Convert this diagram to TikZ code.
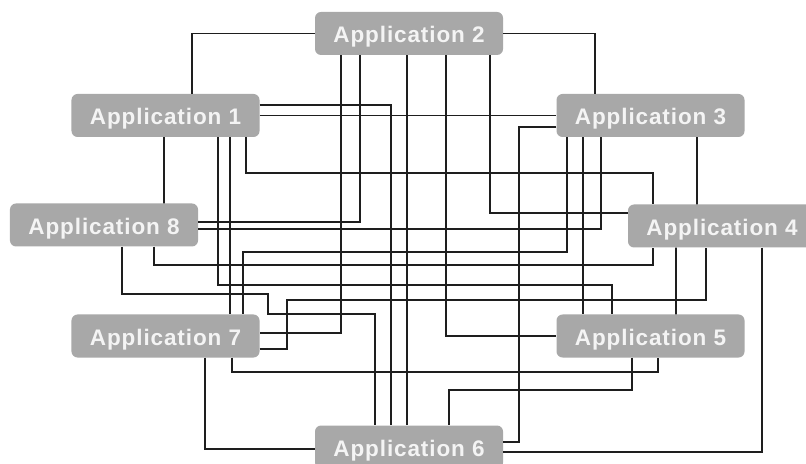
\documentclass[tikz,border=0pt]{standalone}
\usepackage{fontspec}
\usepackage{tikz}
\newfontfamily\appfont[LetterSpace=4.0]{Liberation Sans}
\definecolor{appgray}{HTML}{A8A8A8}
\definecolor{apptext}{HTML}{F4F4F4}
\definecolor{wire}{HTML}{1E1E1E}
\tikzset{
app/.style={rectangle, rounded corners=6bp, fill=appgray, text=apptext, font=\appfont\bfseries\fontsize{22.5bp}{24bp}\selectfont, minimum width=188bp, minimum height=43bp, inner sep=0pt, text height=19bp, text depth=0pt},
link/.style={draw=wire, line width=1.8bp},
}

\begin{document}
\begin{tikzpicture}[x=1bp, y=-1bp]
    \useasboundingbox[fill=white] (0,0) rectangle (806,464);

    %nodes, top row
    \node[app] (app2) at (409,33.5)  {Application 2};
    \node[app] (app1) at (165.5,115.5) {Application 1};
    \node[app] (app3) at (650.5,115.5) {Application 3};

    %nodes, middle row
    \node[app] (app8) at (104,225)   {Application 8};
    \node[app] (app4) at (722,226)   {Application 4};

    %nodes, bottom row
    \node[app] (app7) at (165.5,336) {Application 7};
    \node[app] (app5) at (650.5,336) {Application 5};
    \node[app] (app6) at (409,447)   {Application 6};

    %links from app1
    \draw[link] ([xshift=26.5bp]app1.north) |- (app2.west);
    \draw[link] ([xshift=-1.5bp]app1.south)--([xshift=60bp]app8.north);
    \draw[link] (app1.east)--(app3.west);
    \draw[link] ([yshift=10.5bp]app1.east) -| ([xshift=-18bp]app6.north);
    \draw[link] ([xshift=80.5bp]app1.south) -- ++(0,36) -| ([xshift=-69bp]app4.north);
    \draw[link] ([xshift=64.5bp]app1.south)--([xshift=64.5bp]app7.north);
    \draw[link] ([xshift=52.5bp]app1.south) -- ++(0,148) -| ([xshift=-38.5bp]app5.north);

    %links from app2
    \draw[link] (app2.east) -| ([xshift=-55.5bp]app3.north);
    \draw[link] ([xshift=-49bp]app2.south) |- ([yshift=3bp]app8.east);
    \draw[link] ([xshift=81bp]app2.south) |- ([yshift=13bp]app4.west);
    \draw[link] ([xshift=-68bp]app2.south) |- ([yshift=3bp]app7.east);
    \draw[link] ([xshift=-2bp]app2.south)--([xshift=-2bp]app6.north);
    \draw[link] ([xshift=37bp]app2.south) |- (app5.west);

    %links from app3
    \draw[link] ([xshift=46.5bp]app3.south)--([xshift=-25bp]app4.north);
    \draw[link] ([yshift=-11.5bp]app3.west) -- ++(-37.5,0) |- ([yshift=5bp]app6.east);
    \draw[link] ([xshift=-83.5bp]app3.south) -- ++(0,115) -| ([xshift=77.5bp]app7.north);
    \draw[link] ([xshift=-67.5bp]app3.south)--([xshift=-67.5bp]app5.north);

    %links from app8
    \draw[link] ([yshift=-4bp]app8.east) -| ([xshift=-49.5bp]app3.south);
    \draw[link] ([xshift=50bp]app8.south) -- ++(0,18.5) -| ([xshift=-69bp]app4.south);
    \draw[link] ([xshift=18bp]app8.south) -- ++(0,47.5) -- ++(146,0) -- ++(0,20) -| ([xshift=-34bp]app6.north);

    %links from app7
    \draw[link] ([yshift=-13bp]app7.east) -- ++(27.5,0) -- ++(0,-49) -| ([xshift=-16bp]app4.south);
    \draw[link] ([xshift=39.5bp]app7.south) |- ([yshift=-2bp]app6.west);
    \draw[link] ([xshift=66.5bp]app7.south) -- ++(0,14.5) -| ([xshift=7.5bp]app5.south);

    %links from app4 and app5
    \draw[link] ([xshift=-46bp]app4.south)--([xshift=25.5bp]app5.north);
    \draw[link] ([xshift=40bp]app4.south) |- ([yshift=-5bp]app6.east);
    \draw[link] ([xshift=-18.5bp]app5.south) -- ++(0,32.5) -| ([xshift=40bp]app6.north);

\end{tikzpicture}
\end{document}
